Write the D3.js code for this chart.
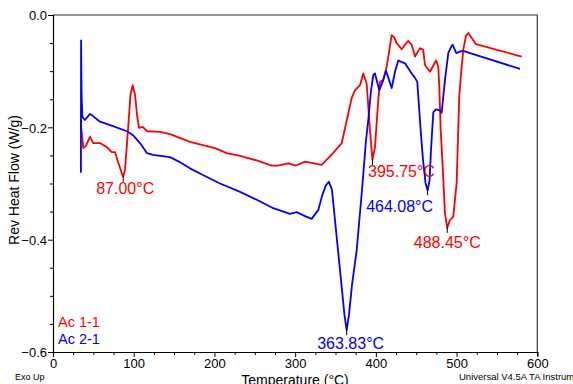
<!DOCTYPE html>
<html><head><meta charset="utf-8">
<script src="https://cdn.jsdelivr.net/npm/d3@7"></script>
<style>body{margin:0;background:#fff}svg{display:block;font-family:"Liberation Sans",Arial,sans-serif}</style>
</head><body><svg id="c" width="573" height="384"></svg>
<script>
// Ac 1-1 (red): [Temperature °C, Rev Heat Flow W/g]
const ac11 = [[34.6,-0.187],[35.0,-0.200],[37.5,-0.237],[40.9,-0.233],[45.8,-0.217],[49.9,-0.228],[58.2,-0.228],[66.5,-0.235],[72.7,-0.244],[76.8,-0.244],[80.9,-0.263],[85.1,-0.281],[87.0,-0.288],[89.2,-0.276],[92.9,-0.205],[96.0,-0.142],[98.7,-0.125],[101.6,-0.142],[104.1,-0.178],[106.5,-0.201],[111.1,-0.199],[116.8,-0.207],[132.6,-0.208],[145.0,-0.212],[169.7,-0.226],[200.7,-0.237],[215.2,-0.246],[231.7,-0.251],[252.4,-0.259],[270.9,-0.268],[278.7,-0.268],[291.5,-0.264],[301.0,-0.268],[312.2,-0.261],[326.7,-0.265],[332.9,-0.267],[346.9,-0.246],[357.7,-0.228],[361.7,-0.202],[370.0,-0.148],[374.1,-0.134],[380.3,-0.125],[384.4,-0.104],[388.6,-0.122],[392.7,-0.205],[395.75,-0.258],[398.9,-0.235],[403.0,-0.151],[405.1,-0.119],[409.2,-0.116],[413.4,-0.092],[416.3,-0.066],[419.6,-0.036],[422.4,-0.039],[425.8,-0.050],[432.0,-0.061],[436.1,-0.053],[440.2,-0.046],[444.4,-0.053],[448.5,-0.074],[454.7,-0.059],[458.7,-0.062],[460.8,-0.089],[467.0,-0.101],[474.5,-0.081],[477.3,-0.092],[478.6,-0.128],[480.3,-0.205],[482.8,-0.270],[485.6,-0.353],[488.45,-0.379],[491.8,-0.365],[495.9,-0.359],[500.1,-0.299],[503.3,-0.145],[505.4,-0.107],[508.3,-0.062],[511.6,-0.037],[514.5,-0.032],[518.7,-0.041],[524.0,-0.052],[580.6,-0.074]];
// Ac 2-1 (blue)
const ac21 = [[34.6,-0.281],[34.8,-0.045],[35.4,-0.140],[36.3,-0.180],[37.2,-0.183],[39.6,-0.187],[45.8,-0.176],[49.6,-0.180],[58.2,-0.190],[74.3,-0.198],[91.7,-0.207],[99.1,-0.214],[107.8,-0.228],[116.5,-0.246],[123.9,-0.249],[144.9,-0.253],[157.3,-0.262],[169.7,-0.273],[185.8,-0.285],[206.9,-0.300],[231.7,-0.315],[252.4,-0.329],[272.9,-0.344],[293.6,-0.354],[301.9,-0.351],[312.2,-0.358],[320.5,-0.363],[328.7,-0.347],[333.3,-0.322],[338.2,-0.303],[341.9,-0.297],[345.6,-0.311],[350.6,-0.383],[356.8,-0.472],[361.1,-0.534],[363.83,-0.561],[366.7,-0.534],[370.4,-0.481],[376.3,-0.418],[382.8,-0.312],[387.8,-0.223],[390.6,-0.187],[394.0,-0.134],[396.8,-0.107],[398.9,-0.104],[404.2,-0.134],[408.4,-0.119],[412.5,-0.099],[419.6,-0.130],[423.7,-0.101],[427.8,-0.081],[436.1,-0.086],[444.4,-0.104],[448.5,-0.112],[451.3,-0.119],[455.5,-0.205],[458.4,-0.258],[461.5,-0.299],[464.08,-0.312],[466.5,-0.295],[468.3,-0.240],[471.2,-0.173],[474.5,-0.168],[479.4,-0.170],[481.5,-0.174],[485.6,-0.116],[489.7,-0.068],[493.9,-0.055],[495.2,-0.053],[499.6,-0.068],[504.2,-0.065],[507.9,-0.064],[578.5,-0.096]];
const seriesNames = ["Ac 1-1","Ac 2-1"];
const seriesColors = ["#ff0000","#0000ff"];
const xTicks = [0,100,200,300,400,500,600];
const yTicks = [0.0,-0.2,-0.4,-0.6];
// peak annotations: [series index, temperature, label]
const peaks = [[0,87.00,"87.00°C"],[0,395.75,"395.75°C"],[0,488.45,"488.45°C"],[1,363.83,"363.83°C"],[1,464.08,"464.08°C"]];
const labelOffsets = [[2,17],[29,17],[0,20],[4,19],[-28,21.5]];

const svg = d3.select("#c");
const L=53,R=537.3,T=15,B=352;
const x = d3.scaleLinear().domain([0,600]).range([L,R]);
const y = d3.scaleLinear().domain([-0.6,0]).range([B,T]);

// frame top/right
svg.append("path").attr("d",`M${L},${T}H${R}V${B}`).attr("fill","none").attr("stroke","#333").attr("stroke-width",1.2);

// axes
const xa = svg.append("g").attr("transform",`translate(0,${B})`)
  .call(d3.axisBottom(x).tickValues(d3.range(0,601,25)).tickSize(4).tickFormat(d=>xTicks.includes(d)?d:""));
xa.selectAll(".tick line").attr("y2",d=>d%100===0?5:3);
const ya = svg.append("g").attr("transform",`translate(${L},0)`)
  .call(d3.axisLeft(y).tickValues(d3.range(-12,1).map(i=>i*0.05)).tickSize(4)
    .tickFormat(d=>{const r=Math.round(d*10)/10; return (Math.abs(d*20)%4<0.01)? d3.format(".1f")(r):"";}));
ya.selectAll(".tick line").attr("x2",d=>(Math.abs(d*20)%4<0.01)?-5:-3);
[xa,ya].forEach(g=>{g.select(".domain").attr("stroke","#000").attr("stroke-width",1.2);g.selectAll(".tick line").attr("stroke","#000");g.selectAll("text").attr("font-size",13).attr("fill","#000").attr("font-family","Liberation Sans, Arial, sans-serif");});
xa.selectAll("text").attr("dy","0.72em").attr("y",7);
ya.selectAll("text").attr("x",-6).attr("dy","0.36em");

// lines
const line = d3.line().x(d=>x(d[0])).y(d=>y(d[1]));
[ac11,ac21].forEach((s,i)=>{
  svg.append("path").datum(s).attr("d",line).attr("fill","none").attr("stroke",seriesColors[i]).attr("stroke-width",1.8).attr("stroke-linejoin","round");
});

// peak markers and labels
peaks.forEach((p,k)=>{
  const s=[ac11,ac21][p[0]];
  const pt=s.find(d=>d[0]===p[1]);
  const px=x(pt[0]), py=y(pt[1]);
  svg.append("line").attr("x1",px).attr("x2",px).attr("y1",py-1).attr("y2",py+5).attr("stroke","#000").attr("stroke-width",1);
  svg.append("text").attr("x",px+labelOffsets[k][0]).attr("y",py+labelOffsets[k][1]).attr("text-anchor","middle")
    .attr("font-size",16).attr("fill",seriesColors[p[0]]).text(p[2]);
});

// legend
seriesNames.forEach((n,i)=>{
  svg.append("text").attr("x",58).attr("y",327+i*16.5).attr("font-size",14.5).attr("fill",seriesColors[i]).text(n);
});

// axis titles
svg.append("text").attr("x",295).attr("y",385).attr("text-anchor","middle").attr("font-size",14).text("Temperature (°C)");
svg.append("text").attr("transform","translate(19,180) rotate(-90)").attr("text-anchor","middle").attr("font-size",14).text("Rev Heat Flow (W/g)");
svg.append("text").attr("x",15).attr("y",380).attr("font-size",9).text("Exo Up");
svg.append("text").attr("x",459).attr("y",380).attr("font-size",9.5).text("Universal V4.5A TA Instruments");
</script></body></html>
